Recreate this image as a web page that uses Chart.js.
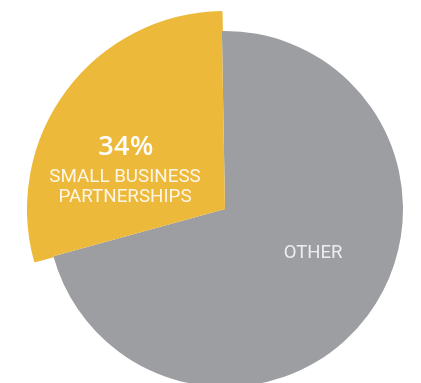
<!DOCTYPE html>
<html>
<head>
<meta charset="utf-8">
<script src="https://cdn.jsdelivr.net/npm/chart.js@4"></script>
<style>
  html, body { margin: 0; padding: 0; background: #fff; width: 421px; height: 383px; overflow: hidden; }
  #wrap { position: absolute; left: 27px; top: 11px; width: 396px; height: 396px; }
  .lbl { position: absolute; color: #fff; font-family: Roboto, "Liberation Sans", sans-serif; text-align: center; white-space: nowrap; transform: translateX(-50%); }
  #pct { left: 126px; top: 126px; font-family: "Open Sans", Roboto, sans-serif; font-size: 27px; font-weight: 600; letter-spacing: 0.5px; }
  #sb { left: 125px; top: 166px; font-size: 18.8px; line-height: 20px; color: #fdf6e6; }
  #oth { left: 313px; top: 241px; font-size: 18.5px; color: #eeeef0; }
</style>
</head>
<body>
<div id="wrap"><canvas id="pieChart"></canvas></div>
<div class="lbl" id="pct"></div>
<div class="lbl" id="sb"></div>
<div class="lbl" id="oth"></div>
<script>
// slice names and the share each slice takes up as drawn
const categories = ["OTHER", "SMALL BUSINESS PARTNERSHIPS"];
const shares = [71, 29];
// text printed on the slices
const percentLabel = "34%";
const sliceLines = [["OTHER"], ["SMALL BUSINESS", "PARTNERSHIPS"]];

const gray = "#9d9ea1";
const yellow = "#edb93a";

document.getElementById("pct").textContent = percentLabel;
document.getElementById("sb").innerHTML = sliceLines[1].join("<br>");
document.getElementById("oth").textContent = sliceLines[0].join(" ");

const ctx = document.getElementById("pieChart").getContext("2d");
const pieChart = new Chart(ctx, {
  type: "pie",
  data: {
    labels: categories,
    datasets: [
      {
        // outer ring: only the yellow slice sticks out past the gray circle
        // (yellow border hides the seam with the inner ring)
        data: shares,
        backgroundColor: ["rgba(0,0,0,0)", yellow],
        borderColor: ["rgba(0,0,0,0)", yellow],
        borderWidth: [0, 2],
        hoverOffset: 0,
        weight: 19,
      },
      {
        data: shares,
        backgroundColor: [gray, yellow],
        borderWidth: 0,
        hoverOffset: 0,
        weight: 178,
      },
    ],
  },
  options: {
    responsive: true,
    maintainAspectRatio: true,
    aspectRatio: 1,
    animation: false,
    rotation: -1,
    layout: { padding: 0 },
    events: [],
    plugins: {
      legend: { display: false },
      tooltip: { enabled: false },
    },
  },
});
</script>
</body>
</html>
